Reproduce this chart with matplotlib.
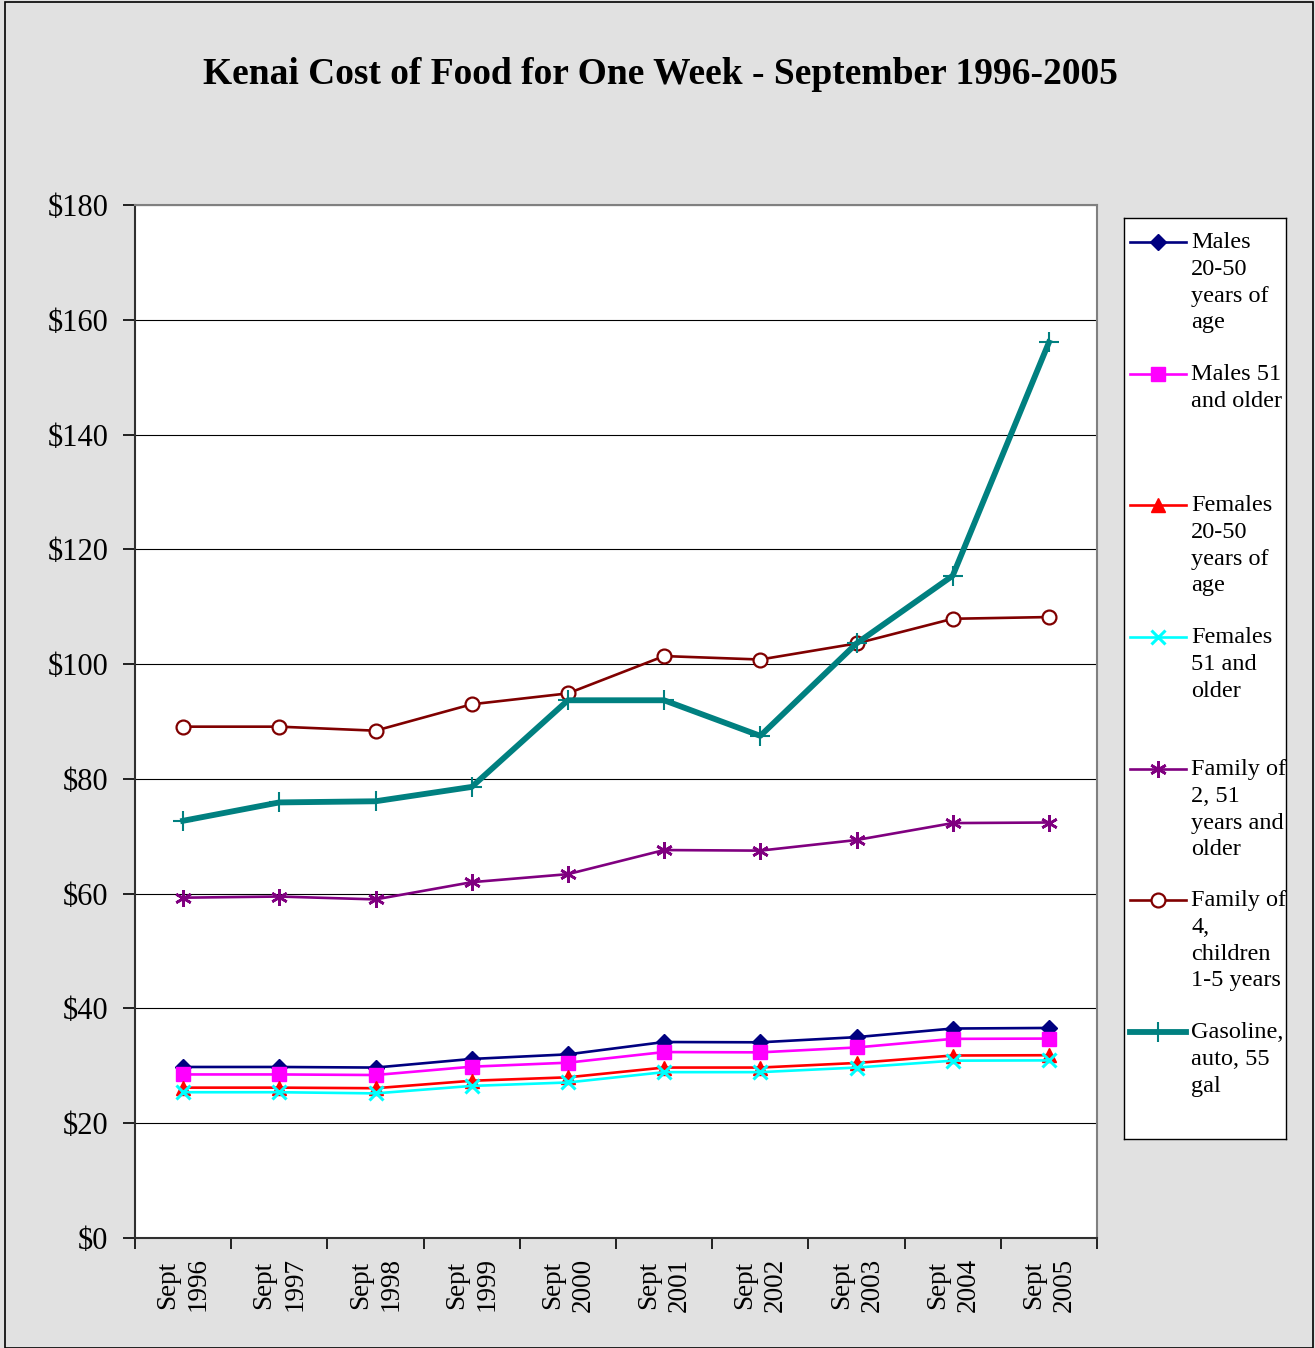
import matplotlib
matplotlib.use("Agg")
import matplotlib.pyplot as plt
from matplotlib.lines import Line2D

plt.rcParams['font.family'] = ['Liberation Serif', 'DejaVu Serif']

years = ["1996", "1997", "1998", "1999", "2000", "2001", "2002", "2003", "2004", "2005"]
tick_labels = ["Sept\n" + y for y in years]

males_20_50 = [29.8, 29.8, 29.7, 31.2, 32.0, 34.15, 34.1, 35.0, 36.5, 36.6]
males_51 = [28.5, 28.5, 28.4, 29.85, 30.55, 32.4, 32.35, 33.2, 34.7, 34.75]
females_20_50 = [26.2, 26.2, 26.1, 27.4, 28.0, 29.7, 29.7, 30.5, 31.8, 31.85]
females_51 = [25.4, 25.4, 25.2, 26.5, 27.1, 28.9, 28.9, 29.7, 30.9, 30.95]
family_2 = [59.3, 59.5, 59.0, 62.0, 63.4, 67.6, 67.5, 69.35, 72.3, 72.4]
family_4 = [89.1, 89.1, 88.4, 93.0, 94.9, 101.4, 100.8, 103.6, 107.9, 108.2]
gasoline = [72.7, 75.9, 76.1, 78.6, 93.7, 93.7, 87.5, 103.6, 115.4, 156.05]

labels = ["Males\n20-50\nyears of\nage",
          "Males 51\nand older",
          "Females\n20-50\nyears of\nage",
          "Females\n51 and\nolder",
          "Family of\n2, 51\nyears and\nolder",
          "Family of\n4,\nchildren\n1-5 years",
          "Gasoline,\nauto, 55\ngal"]

series = [males_20_50, males_51, females_20_50, females_51, family_2, family_4, gasoline]
styles = [
    dict(color="#000080", marker="D", markersize=8.5, lw=1.9, mfc="#000080", mec="#000080"),
    dict(color="#FF00FF", marker="s", markersize=10, lw=1.9, mfc="#FF00FF", mec="#FF00FF"),
    dict(color="#FF0000", marker="^", markersize=10, lw=1.9, mfc="#FF0000", mec="#FF0000"),
    dict(color="#00FFFF", marker="x", markersize=10, lw=1.9, mew=2.2, mec="#00FFFF"),
    dict(color="#800080", marker=(6, 2, 0), markersize=12, lw=1.9, mew=1.9, mec="#800080"),
    dict(color="#800000", marker="o", markersize=10, lw=1.9, mfc="white", mec="#800000", mew=1.6),
    dict(color="#008080", marker="+", markersize=15, lw=4.2, mew=1.5, mec="#008080"),
]

W, H = 1315, 1348
fig = plt.figure(figsize=(W / 100, H / 100), dpi=100)
fig.patch.set_facecolor("#E1E1E1")

# outer border
fig.add_artist(plt.Rectangle((5 / W, 0), (1313 - 5) / W, (H - 2) / H, transform=fig.transFigure,
                             fill=False, edgecolor="black", lw=1.2))

ax = fig.add_axes([135 / W, 1 - 1238 / H, (1097 - 135) / W, (1238 - 205) / H])
ax.set_facecolor("white")
x = list(range(len(years)))
for vals, st in zip(series, styles):
    ax.plot(x, vals, zorder=3, **st)

ax.set_xlim(-0.5, 9.5)
ax.set_ylim(0, 180)
ax.set_yticks(range(0, 181, 20))
ax.set_yticklabels([f"${v}" for v in range(0, 181, 20)], fontsize=22)
ax.yaxis.grid(True, color="black", lw=0.8)
ax.set_axisbelow(True)
ax.set_xticks([i - 0.5 for i in range(11)])
ax.set_xticklabels([])
ax.set_xticks(x, minor=True)
ax.set_xticklabels(tick_labels, minor=True, rotation=90, fontsize=19.5, va="top", ha="center",
                   linespacing=1.3)
ax.tick_params(axis="x", which="minor", length=0, pad=14)
ax.tick_params(axis="x", which="major", length=8, width=1.2, direction="out")
ax.tick_params(axis="y", length=9, width=1.2, direction="out", pad=10)
for s in ["top", "right"]:
    ax.spines[s].set_color("#808080")
    ax.spines[s].set_linewidth(1.5)
for s in ["left", "bottom"]:
    ax.spines[s].set_color("#303030")
    ax.spines[s].set_linewidth(1.5)

fig.text(660 / W, 1 - 74 / H, "Kenai Cost of Food for One Week - September 1996-2005",
         ha="center", va="center", fontsize=27, fontweight="bold")

# legend box
lx0, lx1, ly0, ly1 = 1124, 1286, 218, 1139
lax = fig.add_axes([lx0 / W, 1 - ly1 / H, (lx1 - lx0) / W, (ly1 - ly0) / H])
lax.set_xlim(0, lx1 - lx0)
lax.set_ylim(ly1 - ly0, 0)
lax.set_xticks([])
lax.set_yticks([])
lax.set_facecolor("white")
for s in lax.spines.values():
    s.set_color("black")
    s.set_linewidth(1.0)
entry_y = [242, 374, 505, 637, 769, 900, 1032]
for ey, lab, st in zip(entry_y, labels, styles):
    yy = ey - ly0
    lax.add_line(Line2D([6, 62], [yy, yy], color=st["color"], lw=st["lw"]))
    lax.plot([34], [yy], marker=st["marker"], markersize=st["markersize"], color=st["color"],
             mfc=st.get("mfc", st["color"]), mec=st.get("mec", st["color"]), mew=st.get("mew", 1),
             linestyle="none")
    lax.text(67, yy - 10, lab, fontsize=17.5, va="top", ha="left", linespacing=1.36)

fig.savefig("out.png", dpi=100, facecolor=fig.get_facecolor())
